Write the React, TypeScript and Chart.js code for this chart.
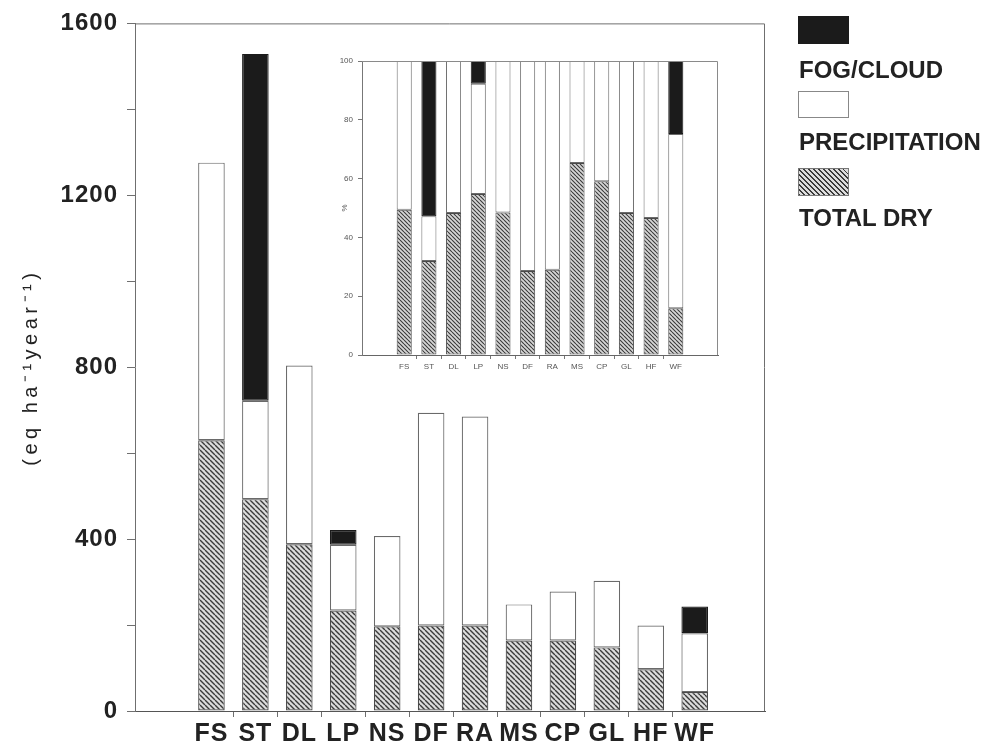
import React, { useEffect, useRef } from "react";
import { Chart, registerables } from "chart.js";

Chart.register(...registerables);

// Site codes
const categories = ["FS", "ST", "DL", "LP", "NS", "DF", "RA", "MS", "CP", "GL", "HF", "WF"];

// Annual deposition by pathway (eq ha-1 year-1)
const totalDry = [630, 493, 388, 234, 197, 199, 199, 164, 164, 148, 97, 44];
const precipitation = [646, 229, 416, 153, 210, 495, 486, 84, 114, 155, 102, 137];
const fogCloud = [0, 807, 0, 34, 0, 0, 0, 0, 0, 0, 0, 62];

// Share of the annual total by pathway (%)
const totalDryPct = [49.4, 32, 48.3, 54.8, 48.5, 28.6, 29, 65.3, 59.1, 48.3, 46.6, 15.9];
const precipitationPct = [50.6, 15.2, 51.7, 37.5, 51.5, 71.4, 71, 34.7, 40.9, 51.7, 53.4, 59.3];
const fogCloudPct = [0, 52.8, 0, 7.7, 0, 0, 0, 0, 0, 0, 0, 24.8];

// Labelled ticks
const mainTickLabels = [0, 400, 800, 1200, 1600];
const insetTickLabels = [0, 20, 40, 60, 80, 100];

const FONT = '"Liberation Sans", Arial, Helvetica, sans-serif';
const INK = "#222222";
const LINE = "#6f6f6f";
const FOG = "#1b1b1b";

function hatch(size: number, bg: string, fg: string, lw: number): CanvasPattern {
  const c = document.createElement("canvas");
  c.width = size;
  c.height = size;
  const g = c.getContext("2d")!;
  g.fillStyle = bg;
  g.fillRect(0, 0, size, size);
  g.strokeStyle = fg;
  g.lineWidth = lw;
  g.beginPath();
  for (const k of [-1, 0, 1]) {
    g.moveTo(0, k * size);
    g.lineTo(size, (k + 1) * size);
  }
  g.stroke();
  return g.createPattern(c, "repeat")!;
}

// Top and right sides of the plot box
const framePlugin = {
  id: "frame",
  afterDatasetsDraw(chart: any, _args: any, opts: any) {
    const { ctx, chartArea: a } = chart;
    ctx.save();
    ctx.strokeStyle = opts.color || LINE;
    ctx.lineWidth = opts.width || 1;
    ctx.beginPath();
    ctx.moveTo(a.left, a.top + 0.5);
    ctx.lineTo(a.right - 0.5, a.top + 0.5);
    ctx.lineTo(a.right - 0.5, a.bottom);
    ctx.stroke();
    ctx.restore();
  },
};

// Letter spacing for the axis lettering; the y-axis title gets a wider setting
const trackingPlugin = {
  id: "tracking",
  afterLayout(chart: any, _args: any, opts: any) {
    const s = chart.scales.y;
    if (s && !s._trackedTitle) {
      const drawTitle = s.drawTitle.bind(s);
      s.drawTitle = () => {
        const c = s.ctx;
        const prev = c.letterSpacing;
        c.letterSpacing = opts.title || "0px";
        drawTitle();
        c.letterSpacing = prev;
      };
      s._trackedTitle = true;
    }
  },
  beforeDraw(chart: any, _args: any, opts: any) {
    chart.ctx.letterSpacing = opts.ticks || "0px";
  },
  afterDraw(chart: any) {
    chart.ctx.letterSpacing = "0px";
  },
};

function stackedBars(dry: number[], precip: number[], fog: number[], pattern: CanvasPattern, bw: number) {
  return [
    {
      label: "TOTAL DRY",
      data: dry.map((y, x) => ({ x, y })),
      backgroundColor: pattern,
      borderColor: "#4a4a4a",
      borderWidth: bw,
      borderSkipped: false as const,
    },
    {
      label: "PRECIPITATION",
      data: precip.map((y, x) => ({ x, y })),
      backgroundColor: "#ffffff",
      borderColor: "#6a6a6a",
      borderWidth: bw,
      borderSkipped: false as const,
    },
    {
      label: "FOG/CLOUD",
      data: fog.map((y, x) => ({ x, y: y || null })),
      backgroundColor: FOG,
      borderColor: FOG,
      borderWidth: bw,
      borderSkipped: false as const,
    },
  ];
}

// Label ticks at the bars, marks between them
function categoryTicks() {
  const t: { value: number }[] = [];
  categories.forEach((_, i) => {
    t.push({ value: i });
    if (i < categories.length - 1) t.push({ value: i + 0.5 });
  });
  return t;
}

export default function App() {
  const mainRef = useRef<HTMLCanvasElement>(null);
  const insetRef = useRef<HTMLCanvasElement>(null);

  useEffect(() => {
    const mainChart = new Chart(mainRef.current!, {
      type: "bar",
      data: { datasets: stackedBars(totalDry, precipitation, fogCloud, hatch(5, "#dcdcdc", "#3a3a3a", 1.4), 1.2) as any },
      plugins: [framePlugin, trackingPlugin],
      options: {
        animation: false,
        responsive: false,
        devicePixelRatio: 1,
        layout: { padding: { left: 0, top: 22, right: 227, bottom: 0 } },
        datasets: { bar: { barPercentage: 1.21, categoryPercentage: 1 } },
        plugins: {
          legend: { display: false },
          tooltip: { enabled: false },
          frame: { color: LINE, width: 1 },
          tracking: { ticks: "1px", title: "4.5px" },
        } as any,
        scales: {
          x: {
            type: "linear",
            offset: false,
            stacked: true,
            min: -1.74,
            max: 12.6,
            afterBuildTicks: (s: any) => {
              s.ticks = categoryTicks();
            },
            afterFit: (s: any) => {
              s.height = 36;
            },
            ticks: {
              autoSkip: false,
              maxRotation: 0,
              padding: 2,
              color: INK,
              font: { family: FONT, size: 25, weight: "bold" },
              callback: (v: any) => (Number.isInteger(v) ? categories[v] : ""),
            },
            grid: {
              offset: false,
              drawOnChartArea: false,
              tickLength: 6,
              tickColor: (ctx: any) => (Number.isInteger(ctx.tick?.value) ? "rgba(0,0,0,0)" : LINE),
            },
            border: { color: "#555", width: 1 },
          },
          y: {
            stacked: true,
            min: 0,
            max: 1600,
            afterFit: (s: any) => {
              s.width = 135;
            },
            ticks: {
              stepSize: 200,
              padding: 9,
              color: INK,
              font: { family: FONT, size: 24, weight: "bold" },
              callback: (v: any) => (mainTickLabels.includes(v) ? String(v) : ""),
            },
            grid: { drawOnChartArea: false, tickLength: 8, color: LINE },
            border: { color: LINE, width: 1 },
            title: {
              display: true,
              text: "(eq ha\u207B\u00B9year\u207B\u00B9)",
              color: INK,
              font: { family: FONT, size: 20 },
              padding: { top: 19, bottom: 0 },
            },
          },
        },
      },
    });

    const insetChart = new Chart(insetRef.current!, {
      type: "bar",
      data: { datasets: stackedBars(totalDryPct, precipitationPct, fogCloudPct, hatch(4, "#d6d6d6", "#3a3a3a", 1.1), 1) as any },
      plugins: [framePlugin],
      options: {
        animation: false,
        responsive: false,
        devicePixelRatio: 1,
        layout: { padding: { left: 0, top: 21, right: 22, bottom: 0 } },
        datasets: { bar: { barPercentage: 1.22, categoryPercentage: 1 } },
        plugins: {
          legend: { display: false },
          tooltip: { enabled: false },
          frame: { color: "#8a8a8a", width: 1 },
        } as any,
        scales: {
          x: {
            type: "linear",
            offset: false,
            stacked: true,
            min: -1.71,
            max: 12.71,
            afterBuildTicks: (s: any) => {
              s.ticks = categoryTicks();
            },
            afterFit: (s: any) => {
              s.height = 25;
            },
            ticks: {
              autoSkip: false,
              maxRotation: 0,
              padding: 3,
              color: "#555",
              font: { family: FONT, size: 8 },
              callback: (v: any) => (Number.isInteger(v) ? categories[v] : ""),
            },
            grid: {
              offset: false,
              drawOnChartArea: false,
              tickLength: 4,
              tickColor: (ctx: any) => (Number.isInteger(ctx.tick?.value) ? "rgba(0,0,0,0)" : "#777"),
            },
            border: { color: "#666", width: 1 },
          },
          y: {
            stacked: true,
            min: 0,
            max: 100,
            afterFit: (s: any) => {
              s.width = 62;
            },
            ticks: {
              stepSize: 20,
              padding: 5,
              color: "#555",
              font: { family: FONT, size: 8 },
              callback: (v: any) => (insetTickLabels.includes(v) ? String(v) : ""),
            },
            grid: { drawOnChartArea: false, tickLength: 4, color: "#777" },
            border: { color: "#777", width: 1 },
            title: {
              display: true,
              text: "%",
              color: "#555",
              font: { family: FONT, size: 8 },
              padding: { top: 40, bottom: 0 },
            },
          },
        },
      },
    });

    return () => {
      mainChart.destroy();
      insetChart.destroy();
    };
  }, []);

  const legendText: React.CSSProperties = {
    position: "absolute",
    left: 799,
    fontFamily: FONT,
    fontSize: 24,
    fontWeight: "bold",
    lineHeight: "25px",
    color: INK,
    whiteSpace: "nowrap",
  };
  const legendBox: React.CSSProperties = {
    position: "absolute",
    left: 798,
    width: 51,
    height: 27,
    boxSizing: "border-box",
  };

  return (
    <div style={{ position: "absolute", left: 0, top: 0, width: 992, height: 747, background: "#fff", overflow: "hidden" }}>
      <canvas ref={mainRef} width={992} height={747} style={{ position: "absolute", left: 0, top: 0 }} />
      <canvas ref={insetRef} width={440} height={340} style={{ position: "absolute", left: 300, top: 40 }} />
      <div style={{ ...legendBox, top: 16, height: 28, background: FOG, border: `1px solid ${FOG}` }} />
      <div style={{ ...legendText, top: 57 }}>FOG/CLOUD</div>
      <div style={{ ...legendBox, top: 91, background: "#fff", border: "1.5px solid #888" }} />
      <div style={{ ...legendText, top: 129 }}>PRECIPITATION</div>
      <div
        style={{
          ...legendBox,
          top: 168,
          height: 28,
          border: "1px solid #777",
          backgroundImage: "repeating-linear-gradient(45deg, #3a3a3a 0px, #3a3a3a 1.2px, #dcdcdc 1.2px, #dcdcdc 3.5px)",
        }}
      />
      <div style={{ ...legendText, top: 205 }}>TOTAL DRY</div>
    </div>
  );
}
